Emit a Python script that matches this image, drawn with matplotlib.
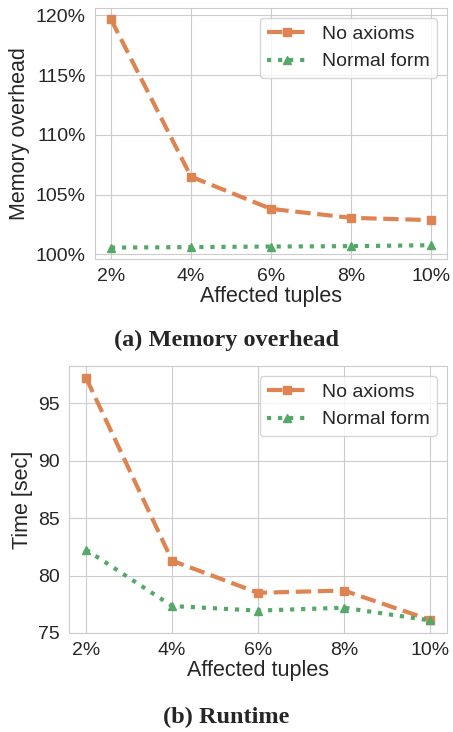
import numpy as np
import matplotlib
matplotlib.use("Agg")
import matplotlib.pyplot as plt
import seaborn as sns
from matplotlib.ticker import FuncFormatter

# data
x_labels = ["2%", "4%", "6%", "8%", "10%"]
affected = [2, 4, 6, 8, 10]

mem_no_axioms = [119.66, 106.5, 103.8, 103.05, 102.86]
mem_normal_form = [100.56, 100.6, 100.65, 100.68, 100.76]

time_no_axioms = [97.2, 81.3, 78.5, 78.7, 76.15]
time_normal_form = [82.25, 77.35, 76.95, 77.2, 76.1]

sns.set_style("whitegrid")
plt.rcParams['font.family'] = ['Liberation Sans', 'DejaVu Sans']

orange = "#DD8452"
green = "#55A868"

fig = plt.figure(figsize=(4.53, 7.32), dpi=100)

# top: memory overhead
ax1 = fig.add_axes([95/453, 1-259/732, 352/453, 251/732])
ax1.plot(affected, mem_no_axioms, linestyle='--', marker='s', color=orange,
         lw=3, ms=6, label='No axioms')
ax1.plot(affected, mem_normal_form, linestyle=':', marker='^', color=green,
         lw=3, ms=6, label='Normal form')
ax1.set_yticks([100, 105, 110, 115, 120])
ax1.yaxis.set_major_formatter(FuncFormatter(lambda v, p: "%d%%" % v))
ax1.set_ylabel('Memory overhead', fontsize=15.5, labelpad=4)

# bottom: runtime
ax2 = fig.add_axes([69/453, 1-633/732, 378/453, 267/732])
ax2.plot(affected, time_no_axioms, linestyle='--', marker='s', color=orange,
         lw=3, ms=6, label='No axioms')
ax2.plot(affected, time_normal_form, linestyle=':', marker='^', color=green,
         lw=3, ms=6, label='Normal form')
ax2.set_yticks([75, 80, 85, 90, 95])
ax2.set_ylabel('Time [sec]', fontsize=15.5, labelpad=4)

for ax in (ax1, ax2):
    ax.set_xticks(affected)
    ax.set_xticklabels(x_labels)
    ax.set_xlabel('Affected tuples', fontsize=15.5, labelpad=1)
    ax.tick_params(axis='both', labelsize=14, pad=3)
    ax.legend(loc='upper right', fontsize=14)
    for s in ax.spines.values():
        s.set_color('#cccccc')

fig.text(0.5, 1-340/732, '(a) Memory overhead', ha='center', va='center',
         fontsize=17.5, fontweight='bold', family='Liberation Serif')
fig.text(0.5, 1-717/732, '(b) Runtime', ha='center', va='center',
         fontsize=17.5, fontweight='bold', family='Liberation Serif')

fig.savefig('out.png', dpi=100)
